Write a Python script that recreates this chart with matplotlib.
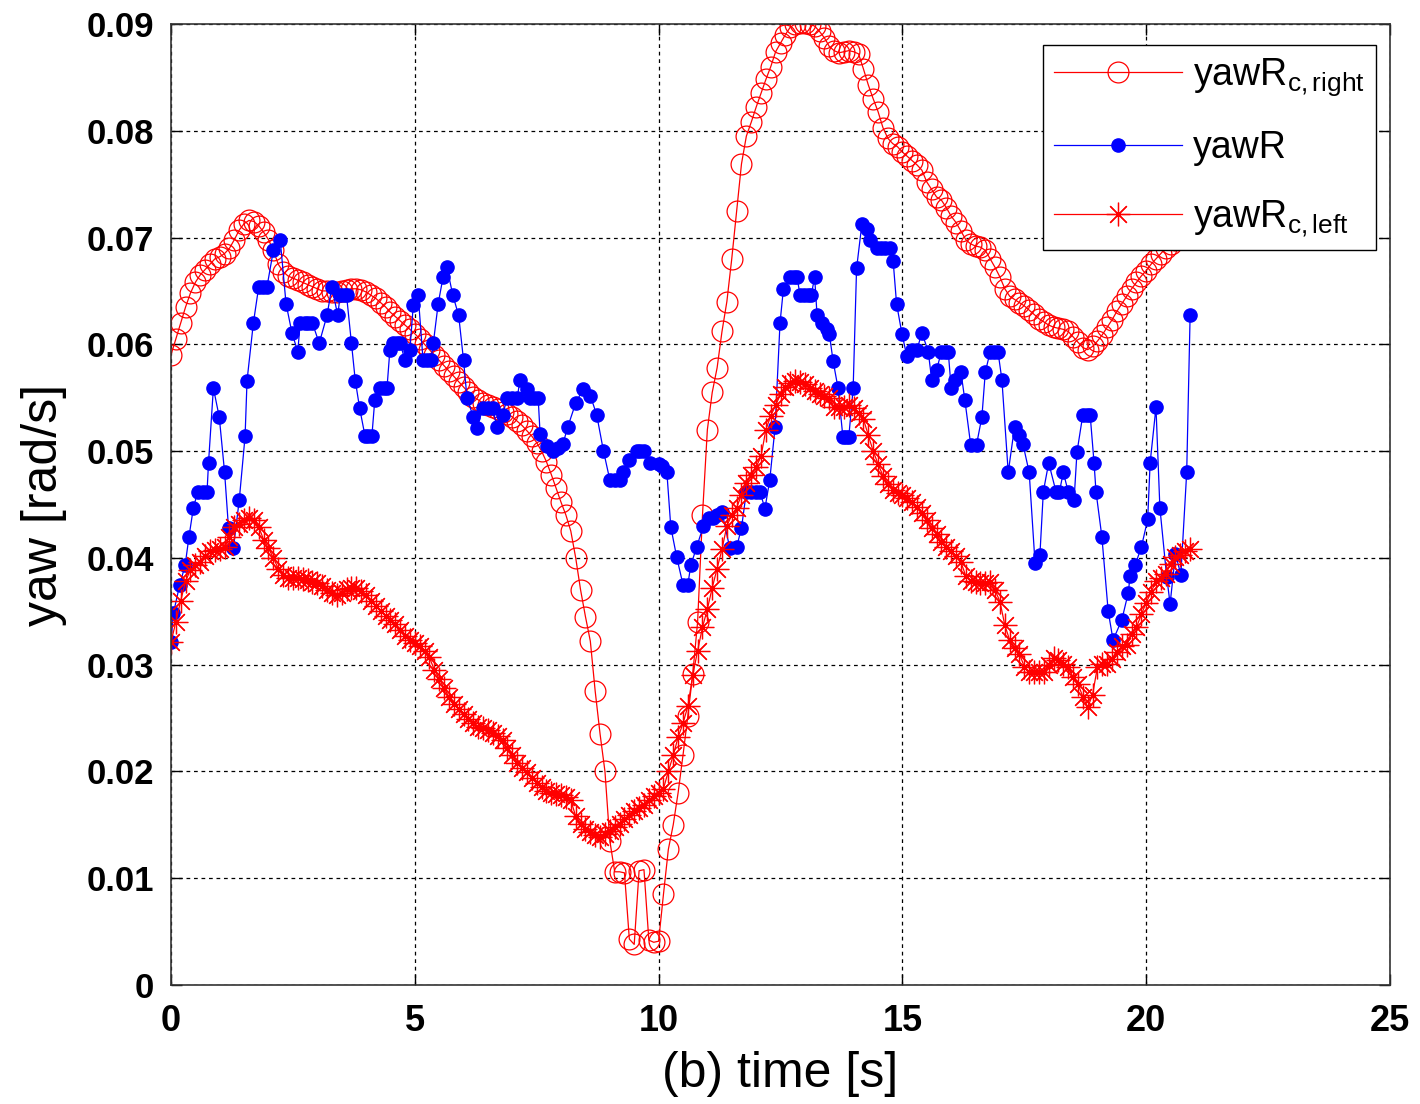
import numpy as np
import matplotlib
matplotlib.use("Agg")
import matplotlib.pyplot as plt

plt.rcParams['font.family'] = ['Liberation Sans', 'DejaVu Sans']
plt.rcParams['mathtext.fontset'] = 'custom'
plt.rcParams['mathtext.rm'] = 'Liberation Sans'
plt.rcParams['mathtext.it'] = 'Liberation Sans:italic'

# common time base of the two computed curves (0.0 ... 20.9 s)
t = np.arange(210) / 10.0

# yawR_c,right (red circles)
yaw_right = [
    0.0590, 0.0605, 0.0620, 0.0635, 0.0648, 0.0658, 0.0665, 0.0670, 0.0675, 0.0680,
    0.0682, 0.0685, 0.0690, 0.0698, 0.0707, 0.0713, 0.0716, 0.0715, 0.0711, 0.0705,
    0.0698, 0.0688, 0.0675, 0.0668, 0.0664, 0.0662, 0.0660, 0.0658, 0.0656, 0.0654,
    0.0652, 0.0650, 0.0650, 0.0649, 0.0649, 0.0650, 0.0651, 0.0652, 0.0652, 0.0651,
    0.0649, 0.0646, 0.0643, 0.0639, 0.0635, 0.0630, 0.0626, 0.0622, 0.0618, 0.0614,
    0.0610, 0.0605, 0.0600, 0.0595, 0.0590, 0.0585, 0.0580, 0.0575, 0.0570, 0.0565,
    0.0560, 0.0555, 0.0551, 0.0548, 0.0545, 0.0543, 0.0541, 0.0539, 0.0537, 0.0535,
    0.0532, 0.0528, 0.0524, 0.0519, 0.0514, 0.0508, 0.0500, 0.0490, 0.0478, 0.0465,
    0.0452, 0.0440, 0.0425, 0.0400, 0.0370, 0.0345, 0.0322, 0.0275, 0.0235, 0.0200,
    0.0135, 0.0106, 0.0106, 0.0105, 0.0043, 0.0038, 0.0107, 0.0108, 0.0042, 0.0040,
    0.0041, 0.0085, 0.0127, 0.0150, 0.0180, 0.0215, 0.0252, 0.0291, 0.0340, 0.0440,
    0.0520, 0.0555, 0.0578, 0.0612, 0.0640, 0.0680, 0.0725, 0.0769, 0.0795, 0.0808,
    0.0822, 0.0835, 0.0848, 0.0860, 0.0874, 0.0882, 0.0890, 0.0897, 0.0900, 0.0901,
    0.0901, 0.0900, 0.0898, 0.0893, 0.0887, 0.0879, 0.0875, 0.0873, 0.0874, 0.0875,
    0.0874, 0.0872, 0.0858, 0.0843, 0.0830, 0.0818, 0.0803, 0.0793, 0.0788, 0.0785,
    0.0780, 0.0776, 0.0772, 0.0768, 0.0763, 0.0752, 0.0745, 0.0738, 0.0735, 0.0728,
    0.0720, 0.0714, 0.0706, 0.0698, 0.0694, 0.0692, 0.0691, 0.0688, 0.0680, 0.0672,
    0.0663, 0.0652, 0.0645, 0.0642, 0.0639, 0.0636, 0.0632, 0.0628, 0.0624, 0.0621,
    0.0618, 0.0616, 0.0615, 0.0614, 0.0612, 0.0607, 0.0602, 0.0597, 0.0595, 0.0598,
    0.0603, 0.0609, 0.0616, 0.0623, 0.0631, 0.0638, 0.0645, 0.0652, 0.0658, 0.0664,
    0.0669, 0.0675, 0.0680, 0.0685, 0.0690, 0.0694, 0.0698, 0.0702, 0.0706, 0.0710,
]

# yawR_c,left (red asterisks)
yaw_left = [
    0.0321, 0.0340, 0.0360, 0.0378, 0.0389, 0.0393, 0.0396, 0.0402, 0.0406, 0.0407,
    0.0408, 0.0410, 0.0420, 0.0429, 0.0432, 0.0435, 0.0437, 0.0435, 0.0429, 0.0417,
    0.0409, 0.0400, 0.0390, 0.0384, 0.0381, 0.0381, 0.0381, 0.0380, 0.0379, 0.0377,
    0.0376, 0.0374, 0.0370, 0.0367, 0.0365, 0.0367, 0.0371, 0.0372, 0.0372, 0.0369,
    0.0365, 0.0360, 0.0355, 0.0350, 0.0346, 0.0342, 0.0338, 0.0332, 0.0327, 0.0323,
    0.0320, 0.0317, 0.0313, 0.0307, 0.0295, 0.0287, 0.0278, 0.0270, 0.0263, 0.0258,
    0.0254, 0.0249, 0.0245, 0.0242, 0.0241, 0.0239, 0.0236, 0.0233, 0.0229, 0.0222,
    0.0215, 0.0208, 0.0203, 0.0199, 0.0194, 0.0189, 0.0185, 0.0182, 0.0180, 0.0179,
    0.0178, 0.0176, 0.0173, 0.0158, 0.0151, 0.0146, 0.0143, 0.0140, 0.0139, 0.0141,
    0.0144, 0.0148, 0.0151, 0.0155, 0.0159, 0.0163, 0.0166, 0.0169, 0.0173, 0.0177,
    0.0180, 0.0184, 0.0200, 0.0215, 0.0232, 0.0245, 0.0261, 0.0290, 0.0313, 0.0335,
    0.0352, 0.0372, 0.0390, 0.0408, 0.0430, 0.0440, 0.0447, 0.0459, 0.0470, 0.0478,
    0.0485, 0.0495, 0.0520, 0.0533, 0.0543, 0.0553, 0.0560, 0.0564, 0.0566, 0.0565,
    0.0563, 0.0559, 0.0556, 0.0553, 0.0552, 0.0550, 0.0541, 0.0541, 0.0541, 0.0543,
    0.0540, 0.0536, 0.0530, 0.0515, 0.0500, 0.0488, 0.0477, 0.0469, 0.0464, 0.0461,
    0.0459, 0.0456, 0.0452, 0.0448, 0.0442, 0.0435, 0.0428, 0.0422, 0.0415, 0.0410,
    0.0406, 0.0402, 0.0396, 0.0383, 0.0378, 0.0377, 0.0376, 0.0376, 0.0377, 0.0370,
    0.0359, 0.0337, 0.0323, 0.0316, 0.0310, 0.0298, 0.0293, 0.0293, 0.0293, 0.0293,
    0.0300, 0.0306, 0.0304, 0.0301, 0.0298, 0.0288, 0.0282, 0.0270, 0.0260, 0.0272,
    0.0298, 0.0301, 0.0301, 0.0305, 0.0312, 0.0317, 0.0318, 0.0329, 0.0335, 0.0347,
    0.0358, 0.0368, 0.0378, 0.0381, 0.0385, 0.0394, 0.0401, 0.0403, 0.0406, 0.0408,
]

# yawR (blue dots), own sample times
t_meas = [
    0.00, 0.05, 0.18, 0.29, 0.37, 0.46, 0.55, 0.65, 0.74, 0.77,
    0.87, 0.99, 1.10, 1.18, 1.28, 1.40, 1.52, 1.56, 1.69, 1.80,
    1.88, 1.97, 2.10, 2.24, 2.36, 2.48, 2.60, 2.65, 2.74, 2.82,
    2.90, 3.04, 3.20, 3.30, 3.42, 3.47, 3.54, 3.60, 3.70, 3.78,
    3.87, 3.98, 4.05, 4.12, 4.18, 4.28, 4.36, 4.43, 4.49, 4.56,
    4.63, 4.70, 4.80, 4.90, 4.97, 5.07, 5.17, 5.26, 5.33, 5.38,
    5.48, 5.58, 5.66, 5.78, 5.90, 6.00, 6.07, 6.20, 6.27, 6.40,
    6.50, 6.60, 6.68, 6.80, 6.90, 7.00, 7.10, 7.16, 7.30, 7.37,
    7.45, 7.53, 7.57, 7.71, 7.84, 7.94, 8.04, 8.14, 8.30, 8.45,
    8.60, 8.73, 8.87, 9.00, 9.10, 9.20, 9.27, 9.40, 9.55, 9.62,
    9.70, 9.82, 10.00, 10.08, 10.17, 10.25, 10.37, 10.50, 10.60, 10.66,
    10.78, 10.92, 11.03, 11.12, 11.20, 11.30, 11.46, 11.60, 11.70, 11.80,
    11.90, 12.00, 12.08, 12.18, 12.28, 12.39, 12.49, 12.56, 12.70, 12.77,
    12.84, 12.90, 12.98, 13.06, 13.13, 13.20, 13.25, 13.35, 13.45, 13.50,
    13.58, 13.68, 13.78, 13.85, 13.90, 13.99, 14.06, 14.17, 14.27, 14.34,
    14.47, 14.56, 14.65, 14.75, 14.81, 14.88, 14.99, 15.09, 15.20, 15.30,
    15.40, 15.53, 15.60, 15.70, 15.80, 15.87, 15.94, 16.00, 16.08, 16.20,
    16.28, 16.40, 16.52, 16.63, 16.70, 16.80, 16.88, 16.96, 17.04, 17.17,
    17.30, 17.40, 17.47, 17.60, 17.72, 17.82, 17.89, 18.00, 18.15, 18.22,
    18.30, 18.40, 18.52, 18.58, 18.70, 18.78, 18.85, 18.93, 18.97, 19.09,
    19.22, 19.32, 19.50, 19.63, 19.67, 19.77, 19.90, 20.03, 20.08, 20.20,
    20.28, 20.42, 20.49, 20.60, 20.71, 20.83, 20.90,
]
yaw_meas = [
    0.0321, 0.0348, 0.0375, 0.0393, 0.0420, 0.0447, 0.0462, 0.0462, 0.0462, 0.0489,
    0.0559, 0.0532, 0.0480, 0.0428, 0.0409, 0.0454, 0.0514, 0.0566, 0.0620, 0.0654,
    0.0654, 0.0654, 0.0688, 0.0698, 0.0638, 0.0611, 0.0593, 0.0620, 0.0620, 0.0620,
    0.0620, 0.0601, 0.0627, 0.0654, 0.0627, 0.0646, 0.0646, 0.0646, 0.0601, 0.0566,
    0.0540, 0.0514, 0.0514, 0.0514, 0.0548, 0.0559, 0.0559, 0.0559, 0.0595, 0.0601,
    0.0601, 0.0601, 0.0585, 0.0595, 0.0637, 0.0646, 0.0585, 0.0585, 0.0585, 0.0601,
    0.0638, 0.0663, 0.0672, 0.0646, 0.0627, 0.0585, 0.0550, 0.0532, 0.0522, 0.0540,
    0.0540, 0.0540, 0.0523, 0.0534, 0.0550, 0.0550, 0.0550, 0.0567, 0.0558, 0.0550,
    0.0550, 0.0550, 0.0516, 0.0505, 0.0500, 0.0503, 0.0507, 0.0523, 0.0545, 0.0558,
    0.0552, 0.0534, 0.0500, 0.0473, 0.0473, 0.0473, 0.0480, 0.0492, 0.0500, 0.0500,
    0.0500, 0.0489, 0.0488, 0.0486, 0.0480, 0.0429, 0.0401, 0.0375, 0.0375, 0.0393,
    0.0410, 0.0430, 0.0437, 0.0437, 0.0440, 0.0443, 0.0409, 0.0410, 0.0428, 0.0462,
    0.0462, 0.0462, 0.0462, 0.0446, 0.0473, 0.0523, 0.0620, 0.0652, 0.0663, 0.0663,
    0.0663, 0.0646, 0.0646, 0.0646, 0.0646, 0.0663, 0.0627, 0.0620, 0.0614, 0.0610,
    0.0584, 0.0559, 0.0513, 0.0513, 0.0513, 0.0559, 0.0671, 0.0713, 0.0708, 0.0698,
    0.0690, 0.0690, 0.0690, 0.0690, 0.0678, 0.0638, 0.0610, 0.0589, 0.0595, 0.0595,
    0.0611, 0.0593, 0.0567, 0.0576, 0.0593, 0.0593, 0.0593, 0.0559, 0.0567, 0.0574,
    0.0548, 0.0506, 0.0506, 0.0532, 0.0574, 0.0593, 0.0593, 0.0593, 0.0567, 0.0480,
    0.0523, 0.0515, 0.0507, 0.0480, 0.0395, 0.0403, 0.0462, 0.0489, 0.0462, 0.0462,
    0.0480, 0.0462, 0.0454, 0.0499, 0.0534, 0.0534, 0.0534, 0.0489, 0.0462, 0.0420,
    0.0350, 0.0323, 0.0342, 0.0367, 0.0383, 0.0393, 0.0410, 0.0436, 0.0489, 0.0541,
    0.0447, 0.0382, 0.0357, 0.0404, 0.0384, 0.0480, 0.0627,
]

x_ticks = [0, 5, 10, 15, 20, 25]
y_ticks = [0, 0.01, 0.02, 0.03, 0.04, 0.05, 0.06, 0.07, 0.08, 0.09]
y_tick_labels = ['0', '0.01', '0.02', '0.03', '0.04', '0.05', '0.06', '0.07', '0.08', '0.09']

fig = plt.figure(figsize=(14.2, 11.04), dpi=100)
ax = fig.add_axes([0.1204, 0.1078, 0.8585, 0.8705])

# MATLAB-like line styles: 'ro-', 'b.-', 'r*-'
ax.plot(t, yaw_right, '-', color='red', lw=0.9, marker='o', ms=15,
        mfc='none', mec='red', mew=0.9, label=r'yawR$_{\rm c,right}$')
ax.plot(t_meas, yaw_meas, '-', color='blue', lw=0.9, marker='o', ms=9.5,
        mfc='blue', mec='blue', label='yawR')
ax.plot(t, yaw_left, '-', color='red', lw=0.9, marker=(8, 2, 0), ms=17,
        mec='red', mew=0.9, label=r'yawR$_{\rm c,left}$')

ax.set_xlim(0, 25)
ax.set_ylim(0, 0.09)
ax.set_xticks(x_ticks)
ax.set_yticks(y_ticks)
ax.set_yticklabels(y_tick_labels)

ax.grid(True, color='black', linestyle=(0, (3, 3)), linewidth=0.9)
ax.tick_params(direction='in', length=8, width=1, top=True, right=True)
ax.tick_params(axis='y', labelsize=25, pad=12)
ax.tick_params(axis='x', labelsize=26, pad=14)
for lab in ax.get_xticklabels() + ax.get_yticklabels():
    lab.set_fontweight('bold')
for sp in ax.spines.values():
    sp.set_linewidth(1.2)
    sp.set_color('#333333')

ax.set_xlabel('(b) time [s]', fontsize=36, labelpad=8)
ax.set_ylabel('yaw [rad/s]', fontsize=36, labelpad=14)

leg = ax.legend(loc='upper right', bbox_to_anchor=(0.9885, 0.978), borderaxespad=0,
                fontsize=27, fancybox=False, framealpha=1, edgecolor='black',
                handlelength=3.4, handletextpad=0.3, labelspacing=0.85,
                borderpad=0.3)
leg.get_frame().set_linewidth(1.0)

fig.savefig('out.png', dpi=100)
